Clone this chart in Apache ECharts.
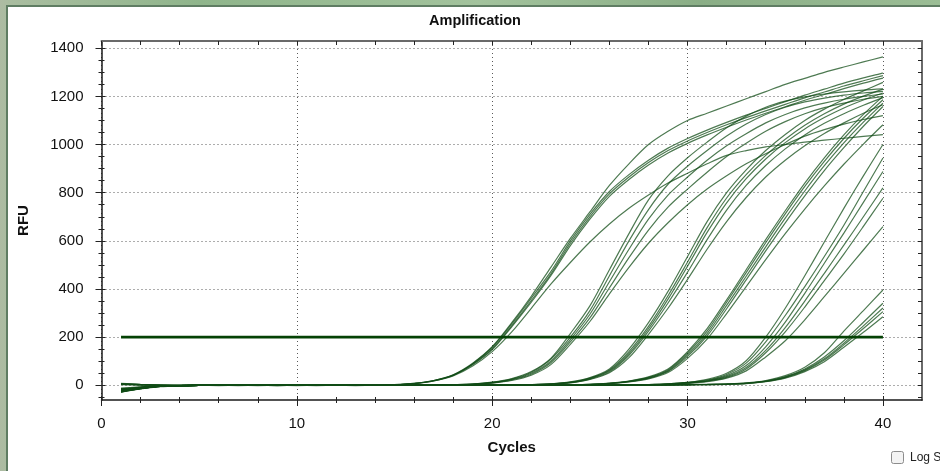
<!DOCTYPE html>
<html>
<head>
<meta charset="utf-8">
<script src="https://cdn.jsdelivr.net/npm/echarts/dist/echarts.min.js"></script>
<style>
  html, body { margin: 0; padding: 0; width: 940px; height: 471px; overflow: hidden; }
  body { background: linear-gradient(90deg, #adbba3 0px, #a9bda0 10px, #8fb58b 200px, #a3c39d 480px, #8aae86 700px, #9bbd95 940px); position: relative; }
  #panel { position: absolute; left: 6px; top: 5px; width: 960px; height: 490px; background: #ffffff;
           border-left: 2px solid #5f7d63; border-top: 2px solid #5f7d63; }
  #chart { position: absolute; left: 0; top: 0; width: 940px; height: 471px; }
</style>
</head>
<body>
<div id="panel"></div>
<div id="chart"></div>
<script>
// ---- data ----
const cycles = [1,2,3,4,5,6,7,8,9,10,11,12,13,14,15,16,17,18,19,20,21,22,23,24,25,26,27,28,29,30,31,32,33,34,35,36,37,38,39,40];

const curveA1 = [-22,-12,-4,-1,0,0,0,-1,0,0, 0,0,1,1,3,8,20,44,92,160, 260,370,490,610,720,830,920,1000,1055,1100, 1130,1160,1190,1220,1250,1275,1300,1322,1343,1364];
const curveA2 = [-25,-13,-5,-1,0,1,0,0,-1,0, 0,1,0,1,3,8,20,43,90,158, 255,362,472,600,710,805,875,935,985,1025, 1060,1092,1122,1150,1178,1205,1230,1255,1277,1297];
const curveA3 = [6,3,1,0,0,0,-1,0,0,0, 1,0,0,1,2,7,19,42,88,152, 248,352,462,590,700,795,865,925,975,1015, 1050,1082,1112,1140,1167,1194,1218,1243,1265,1286];
const curveA4 = [-28,-15,-6,-2,0,0,0,0,0,-1, 0,0,1,1,2,7,18,41,85,148, 243,345,455,580,690,785,855,915,965,1005, 1040,1072,1102,1130,1157,1184,1208,1232,1255,1276];
const curveA5 = [-18,-9,-3,-1,0,0,0,0,0,0, 0,1,0,1,2,7,18,39,80,140, 222,320,420,510,595,670,735,790,840,881, 920,955,975,990,1000,1010,1018,1026,1034,1041];

const curveB1 = [-24,-12,-4,-1,0,0,0,0,-1,0, 0,0,0,0,1,1,2,3,5,13, 28,57,112,215,330,480,630,770,870,945, 1010,1070,1118,1155,1180,1198,1210,1219,1226,1231];
const curveB2 = [4,2,1,0,0,0,0,0,0,0, 0,0,0,1,1,1,2,3,5,12, 26,54,108,200,310,455,600,730,835,910, 975,1035,1085,1125,1155,1177,1193,1205,1214,1221];
const curveB3 = [-20,-10,-3,-1,0,-1,0,0,0,0, -1,0,0,0,1,1,2,3,5,11, 24,50,100,190,295,430,565,690,790,865, 935,995,1045,1090,1125,1152,1172,1188,1200,1210];
const curveB4 = [-26,-14,-5,-2,0,0,0,0,0,0, 0,0,0,0,1,1,2,3,4,10, 22,46,94,180,280,405,530,645,740,815, 885,950,1005,1055,1095,1128,1153,1172,1188,1200];
const curveB5 = [-15,-8,-3,-1,0,0,0,0,0,0, 0,0,0,0,1,1,2,2,4,9, 20,42,86,170,265,380,490,590,675,750, 815,870,920,962,1000,1035,1062,1085,1104,1120];

const curveC1 = [-23,-12,-4,-1,0,0,0,0,0,0, 0,0,0,0,0,0,0,0,1,1, 2,3,6,14,32,68,150,260,390,535, 680,800,895,975,1042,1100,1147,1187,1223,1258];
const curveC2 = [5,3,1,0,0,0,0,0,0,0, 0,0,0,0,0,0,0,0,1,1, 2,3,6,13,30,64,140,245,372,512, 655,778,875,955,1022,1080,1128,1168,1201,1230];
const curveC3 = [-21,-11,-4,-1,0,0,0,0,0,0, 0,0,0,0,0,0,1,0,1,1, 2,3,5,12,28,60,132,235,358,495, 635,758,858,940,1008,1065,1112,1152,1185,1214];
const curveC4 = [-27,-14,-5,-2,0,0,0,0,0,0, 0,0,0,0,0,0,0,1,1,1, 2,3,5,11,26,56,125,225,342,470, 605,728,830,913,982,1040,1088,1128,1163,1195];
const curveC5 = [-12,-6,-2,-1,0,0,0,0,0,0, 0,0,0,0,0,0,0,1,1,1, 2,3,5,10,24,52,115,212,320,440, 565,680,780,865,935,995,1046,1090,1130,1165];

const curveD1 = [-20,-10,-3,-1,0,0,0,0,0,0, 0,0,0,0,0,0,0,0,0,0, 1,1,1,2,4,9,18,35,68,140, 235,355,480,605,725,840,945,1040,1125,1200];
const curveD2 = [-26,-13,-5,-1,0,0,0,0,0,0, 0,0,-1,0,0,0,0,0,0,0, 0,1,1,2,4,8,17,33,64,134, 225,345,468,592,712,826,930,1025,1110,1186];
const curveD3 = [7,3,1,0,0,0,0,0,0,0, 0,0,0,0,0,0,0,0,0,0, 0,1,1,2,4,8,16,31,60,127, 215,332,453,575,694,807,912,1007,1093,1172];
const curveD4 = [-17,-9,-3,-1,0,0,0,0,0,0, 0,0,0,0,0,0,0,0,0,0, 0,1,1,2,3,7,15,29,57,120, 205,318,438,558,675,787,892,987,1076,1158];
const curveD5 = [-24,-12,-4,-1,0,0,0,0,0,0, 0,0,0,0,0,0,0,0,0,0, 0,1,1,2,3,7,14,27,53,112, 192,298,410,522,630,732,828,918,1002,1082];

const curveE0 = [-28,-14,-5,-2,0,0,0,0,0,0, 0,0,0,0,0,0,0,0,0,0, 0,0,0,0,0,1,2,3,6,12, 25,50,102,200,320,455,595,735,870,1000];
const curveE1 = [-19,-10,-3,-1,0,0,0,0,0,0, 0,0,0,0,0,0,0,0,0,0, 0,0,0,0,0,1,2,3,6,12, 22,45,92,180,290,410,535,665,805,944];
const curveE2 = [-25,-13,-4,-1,0,0,0,0,0,0, 0,0,0,0,0,0,0,0,0,0, 0,0,0,0,0,1,2,3,5,11, 20,40,82,160,262,382,507,632,760,888];
const curveE3 = [3,1,0,0,0,0,0,0,0,0, 0,0,0,0,0,0,0,0,0,0, 0,0,0,0,0,1,1,3,5,10, 18,36,74,145,240,350,465,582,700,820];
const curveE4 = [-22,-11,-4,-1,0,0,0,0,0,0, 0,0,0,0,0,0,0,0,0,0, 0,0,0,0,0,1,1,2,4,9, 17,33,68,135,222,325,435,545,660,777];
const curveE5 = [-14,-7,-2,-1,0,0,0,0,0,0, 0,0,0,0,0,0,0,0,0,0, 0,0,0,0,0,1,1,2,4,8, 15,30,60,118,185,272,368,465,562,659];

const curveF1 = [-21,-11,-4,-1,0,0,0,0,0,0, 0,0,0,0,0,0,0,0,0,0, 0,0,0,0,0,0,0,1,2,3, 4,6,10,20,40,75,135,225,310,396];
const curveF2 = [-27,-14,-5,-2,0,0,0,0,0,0, 0,0,0,0,0,0,0,0,0,0, 0,0,0,0,0,0,0,1,2,3, 4,5,9,18,36,68,118,185,262,341];
const curveF3 = [8,4,1,0,0,0,0,0,0,0, 0,0,0,0,0,0,0,0,0,0, 0,0,0,0,0,0,0,1,1,2, 3,5,8,16,34,64,110,175,247,321];
const curveF4 = [-16,-8,-3,-1,0,0,0,0,0,0, 0,0,0,0,0,0,0,0,0,0, 0,0,0,0,0,0,0,1,1,2, 3,5,8,16,32,61,105,168,236,306];
const curveF5 = [-24,-12,-4,-1,0,0,0,0,0,0, 0,0,0,0,0,0,0,0,0,0, 0,0,0,0,0,0,0,1,1,2, 3,4,7,15,30,57,98,158,220,285];

const thresholdRFU = 200;
const thresholdCycles = [1, 40];

const xMajorTicks = [0, 10, 20, 30, 40];
const xMinorTicks = [0,2,4,6,8,10,12,14,16,18,20,22,24,26,28,30,32,34,36,38,40];
const yMajorTicks = [0, 200, 400, 600, 800, 1000, 1200, 1400];
const yMinorTicks = [-50,0,50,100,150,200,250,300,350,400,450,500,550,600,650,700,750,800,850,900,950,1000,1050,1100,1150,1200,1250,1300,1350,1400];

const allCurves = [curveA1,curveA2,curveA3,curveA4,curveA5,curveB1,curveB2,curveB3,curveB4,curveB5,
  curveC1,curveC2,curveC3,curveC4,curveC5,curveD1,curveD2,curveD3,curveD4,curveD5,
  curveE0,curveE1,curveE2,curveE3,curveE4,curveE5,curveF1,curveF2,curveF3,curveF4,curveF5];

// ---- chart ----
const X_MIN = 0, X_MAX = 42, Y_MIN = -61, Y_MAX = 1430;
const tickColor = '#222';
const fontFam = '"Liberation Sans", Arial, sans-serif';
const plainNumber = function (v) { return String(v); };

function xTickAxis(position, values, len, inside, lineShow) {
  return {
    type: 'value', position: position, min: X_MIN, max: X_MAX, interval: 10,
    axisLine: lineShow ? { show: true, onZero: false, lineStyle: { color: '#6a6a6a', width: 2 } } : { show: false, onZero: false },
    axisTick: { show: true, inside: inside, length: len, customValues: values, lineStyle: { color: tickColor, width: 1 } },
    axisLabel: { show: false }, splitLine: { show: false }, minorTick: { show: false }
  };
}
function yTickAxis(position, values, len, inside, lineShow) {
  return {
    type: 'value', position: position, min: Y_MIN, max: Y_MAX, splitNumber: 7,
    axisLine: lineShow ? { show: true, onZero: false, lineStyle: { color: '#6a6a6a', width: 2 } } : { show: false, onZero: false },
    axisTick: { show: true, inside: inside, length: len, customValues: values, lineStyle: { color: tickColor, width: 1 } },
    axisLabel: { show: false }, splitLine: { show: false }, minorTick: { show: false }
  };
}

const series = allCurves.map(function (vals) {
  return {
    type: 'line', xAxisIndex: 0, yAxisIndex: 0,
    data: cycles.map(function (c, i) { return [c, vals[i]]; }),
    showSymbol: false, smooth: 0.3, silent: true, z: 2,
    lineStyle: { color: 'rgba(16, 76, 22, 0.74)', width: 1.2 }
  };
});
series.push({
  type: 'line', xAxisIndex: 0, yAxisIndex: 0,
  data: thresholdCycles.map(function (c) { return [c, thresholdRFU]; }),
  showSymbol: false, silent: true, z: 5,
  lineStyle: { color: '#044204', width: 2.6 }
});

const option = {
  animation: false,
  grid: { left: 101.5, right: 18, top: 41, bottom: 71, containLabel: false },
  xAxis: [
    {
      type: 'value', position: 'bottom', min: X_MIN, max: X_MAX, interval: 10,
      name: 'Cycles', nameLocation: 'middle', nameGap: 40,
      nameTextStyle: { fontFamily: fontFam, fontSize: 15, fontWeight: 'bold', color: '#111' },
      axisLine: { show: true, onZero: false, lineStyle: { color: '#1a1a1a', width: 1.5 } },
      axisTick: { show: true, inside: false, length: 6, customValues: xMajorTicks, lineStyle: { color: tickColor, width: 1 } },
      axisLabel: { show: true, customValues: xMajorTicks, formatter: plainNumber, margin: 16, fontFamily: fontFam, fontSize: 15, color: '#111' },
      splitLine: { show: true, lineStyle: { color: '#5a5a5a', width: 1, type: [1, 3] } },
      minorTick: { show: false }
    },
    xTickAxis('bottom', xMinorTicks, 3, false, false),
    xTickAxis('bottom', xMinorTicks, 3, true, false),
    xTickAxis('bottom', xMajorTicks, 4, true, false),
    xTickAxis('top', xMinorTicks, 4, true, true)
  ],
  yAxis: [
    {
      type: 'value', position: 'left', min: Y_MIN, max: Y_MAX, splitNumber: 7,
      name: 'RFU', nameLocation: 'middle', nameGap: 70,
      nameTextStyle: { fontFamily: fontFam, fontSize: 15, fontWeight: 'bold', color: '#111' },
      axisLine: { show: true, onZero: false, lineStyle: { color: '#1a1a1a', width: 1.5 } },
      axisTick: { show: true, inside: false, length: 6, customValues: yMajorTicks, lineStyle: { color: tickColor, width: 1 } },
      axisLabel: { show: true, customValues: yMajorTicks, formatter: plainNumber, margin: 18, fontFamily: fontFam, fontSize: 15, color: '#111' },
      splitLine: { show: true, lineStyle: { color: '#5a5a5a', width: 1, type: [1, 3] } },
      minorTick: { show: false }
    },
    yTickAxis('left', yMinorTicks, 3, false, false),
    yTickAxis('left', yMinorTicks, 3, true, false),
    yTickAxis('left', yMajorTicks, 4, true, false),
    yTickAxis('right', yMinorTicks, 4, true, true)
  ],
  graphic: [
    { type: 'text', x: 475, y: 21, style: { text: 'Amplification', font: 'bold 14.5px ' + fontFam, fill: '#111', align: 'center', verticalAlign: 'middle' } },
    { type: 'rect', shape: { x: 891.5, y: 451.5, width: 12, height: 12, r: 2 }, style: { fill: '#f3f3f3', stroke: '#8c8c8c', lineWidth: 1 } },
    { type: 'text', x: 910, y: 458, style: { text: 'Log Scale', font: '12px ' + fontFam, fill: '#222', align: 'left', verticalAlign: 'middle' } }
  ],
  series: series
};

const chart = echarts.init(document.getElementById('chart'), null, { renderer: 'canvas' });
chart.setOption(option);
</script>
</body>
</html>
